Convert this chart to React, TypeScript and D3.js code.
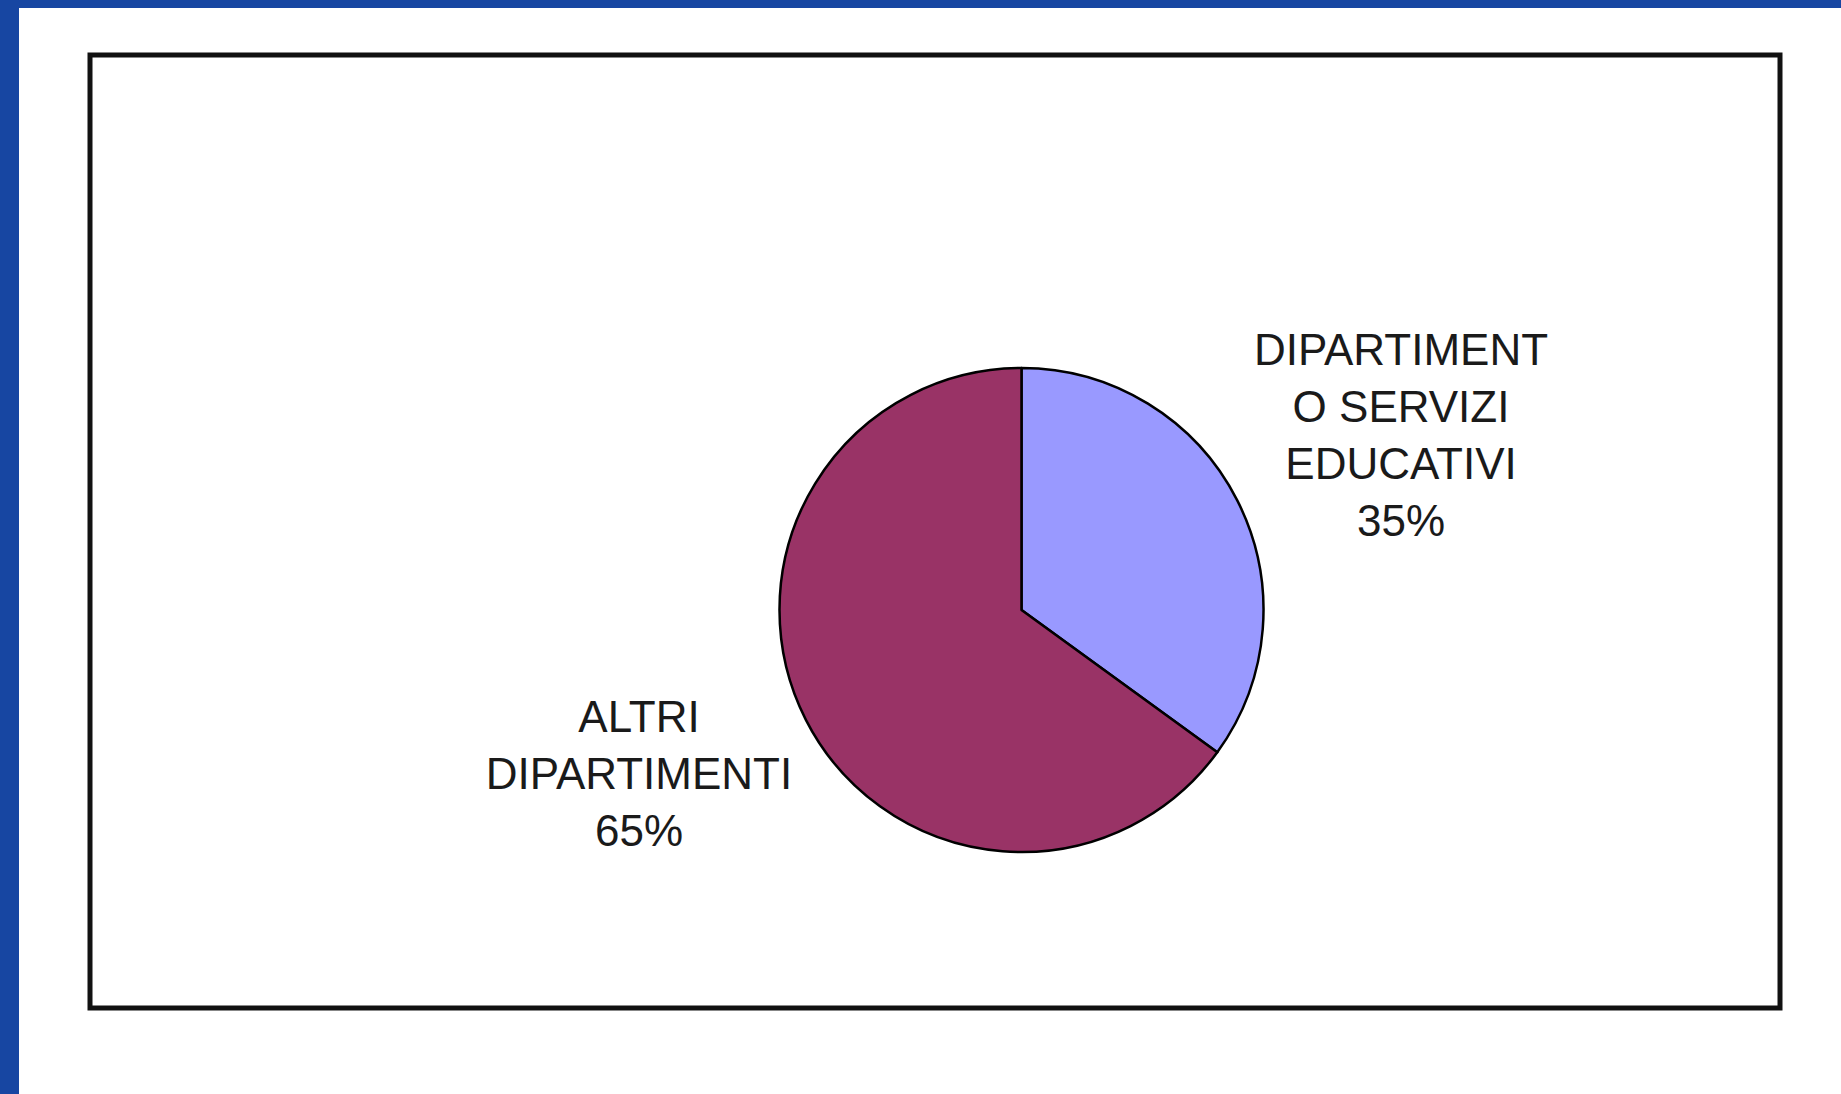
import React from "react";
import { arc, pie } from "d3";

const W = 1841;
const H = 1094;

// slices, clockwise from 12 o'clock
const categories = ["DIPARTIMENTO SERVIZI EDUCATIVI", "ALTRI DIPARTIMENTI"];
const values = [35, 65];
const sliceColors = ["#9999FF", "#993366"];
// label text as it is wrapped in the picture
const labelLines = [
  ["DIPARTIMENT", "O SERVIZI", "EDUCATIVI", "35%"],
  ["ALTRI", "DIPARTIMENTI", "65%"],
];

const cx = 1021.5;
const cy = 610;
const radius = 242;

const labelPos = [
  { x: 1401, y: 365 },
  { x: 639, y: 732 },
];
const lineGap = 57;

export default function App() {
  const slices = pie<number>().sort(null).value((d) => d)(values);
  const arcGen = arc<any>().innerRadius(0).outerRadius(radius);

  return (
    <div style={{ position: "fixed", left: 0, top: 0, width: W, height: H, background: "#fff" }}>
      <svg width={W} height={H} style={{ display: "block" }}>
        <rect x={0} y={0} width={W} height={H} fill="#fff" />
        {/* blue frame, top and left */}
        <rect x={0} y={0} width={W} height={8} fill="#1746A2" />
        <rect x={0} y={0} width={19} height={H} fill="#1746A2" />

        {/* chart box */}
        <rect x={90} y={55} width={1690} height={953} fill="#fff" stroke="#111" strokeWidth={5} />

        <g transform={`translate(${cx},${cy})`}>
          {slices.map((s, i) => (
            <path
              key={categories[i]}
              d={arcGen(s) ?? ""}
              fill={sliceColors[i]}
              stroke="#000"
              strokeWidth={2.5}
              strokeLinejoin="round"
            />
          ))}
        </g>

        {labelLines.map((lines, i) => (
          <text
            key={i}
            textAnchor="middle"
            fontFamily="'Liberation Sans', Arial, sans-serif"
            fontSize={44}
            fill="#1a1a1a"
          >
            {lines.map((line, j) => (
              <tspan key={j} x={labelPos[i].x} y={labelPos[i].y + j * lineGap}>
                {line}
              </tspan>
            ))}
          </text>
        ))}
      </svg>
    </div>
  );
}
